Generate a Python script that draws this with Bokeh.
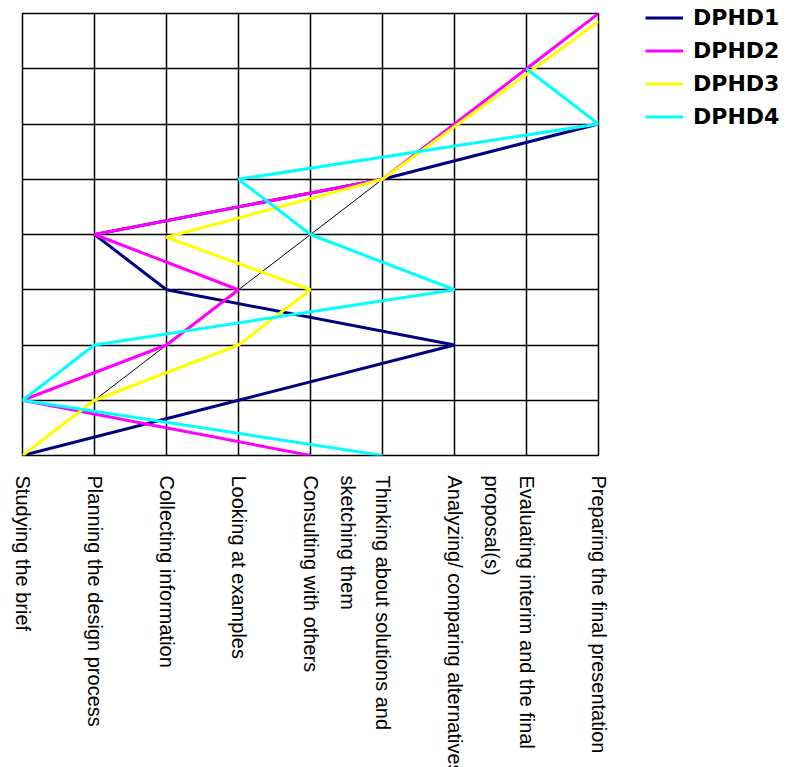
import math
from bokeh.plotting import figure
from bokeh.models import Range1d, FixedTicker, Legend, LegendItem
from bokeh.embed import file_html
from bokeh.resources import INLINE

activities = [
    "Studying the brief",
    "Planning the design process",
    "Collecting information",
    "Looking at examples",
    "Consulting with others",
    "\nThinking about solutions and\nsketching them",
    "Analyzing/ comparing alternatives",
    "\nEvaluating interim and the final\nproposal(s)",
    "Preparing the final presentation",
]
steps = [0, 1, 2, 3, 4, 5, 6, 7, 8]

# each series: activity index visited at each step
dphd1_x = [0, 3, 6, 2, 1, 5, 8]
dphd1_y = [0, 1, 2, 3, 4, 5, 6]
dphd2_x = [4, 0, 2, 3, 1, 5, 6, 7, 8]
dphd2_y = [0, 1, 2, 3, 4, 5, 6, 7, 8]
dphd3_x = [0, 1, 3, 4, 2, 5, 6, 7, 8]
dphd3_y = [0, 1, 2, 3, 3.95, 5, 5.95, 6.9, 7.86]
dphd4_x = [5, 0, 1, 6, 4, 3, 8, 7]
dphd4_y = [0, 1, 2, 3, 4, 5, 6, 7]
diag_x = [0, 8]
diag_y = [0, 8]

names = ["DPHD1", "DPHD2", "DPHD3", "DPHD4"]
colors = ["#000080", "#FF00FF", "#FFFF00", "#00FFFF"]

p = figure(frame_width=576, frame_height=442, output_backend="svg", toolbar_location=None,
           x_range=Range1d(0, 8), y_range=Range1d(0, 8),
           min_border_left=22, min_border_top=13, min_border_right=0,
           min_border_bottom=310)
p.outline_line_color = "black"
p.outline_line_width = 1.5

p.xaxis.ticker = FixedTicker(ticks=list(range(len(activities))))
p.xaxis.major_label_overrides = {i: a for i, a in enumerate(activities)}
p.xaxis.major_label_orientation = -math.pi / 2
p.xaxis.major_tick_line_color = None
p.xaxis.minor_tick_line_color = None
p.xaxis.axis_line_color = None
p.xaxis.major_label_standoff = 14
p.xaxis.major_label_text_font = "Liberation Sans"
p.xaxis.major_label_text_font_size = "20px"
p.xaxis.major_label_text_color = "black"
p.xaxis.major_label_text_line_height = 1.55

p.yaxis.ticker = FixedTicker(ticks=steps)
p.yaxis.visible = False

p.xgrid.ticker = FixedTicker(ticks=list(range(len(activities))))
p.ygrid.ticker = FixedTicker(ticks=steps)
for g in (p.xgrid, p.ygrid):
    g.grid_line_color = "black"
    g.grid_line_width = 1.5
    g.grid_line_alpha = 1.0

p.line(diag_x, diag_y, line_color="black", line_width=1)

series = [(dphd1_x, dphd1_y), (dphd2_x, dphd2_y), (dphd3_x, dphd3_y), (dphd4_x, dphd4_y)]
items = []
for (xs, ys), n, c in zip(series, names, colors):
    r = p.line(xs, ys, line_color=c, line_width=3)
    items.append(LegendItem(label=n, renderers=[r]))

legend = Legend(items=items, location=(47, 326))
legend.border_line_color = None
legend.background_fill_alpha = 0
legend.padding = 0
legend.margin = 0
legend.spacing = 8
legend.label_height = 25
legend.glyph_height = 25
legend.glyph_width = 38
legend.label_standoff = 10
legend.label_text_font = "DejaVu Sans"
legend.label_text_font_style = "bold"
legend.label_text_font_size = "22px"
legend.label_text_color = "black"
p.add_layout(legend, "right")

open("out.html", "w").write(file_html(p, INLINE))
